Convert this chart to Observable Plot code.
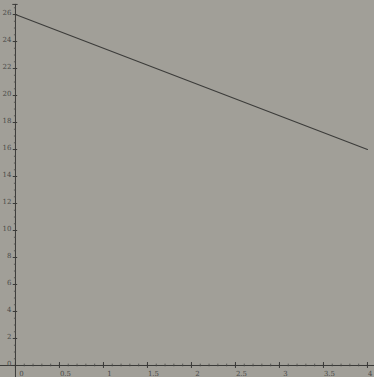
<!DOCTYPE html>
<html>
<head>
<meta charset="utf-8">
<script src="https://cdn.jsdelivr.net/npm/d3@7"></script>
<script src="https://cdn.jsdelivr.net/npm/@observablehq/plot@0.6"></script>
<style>
  html, body { margin: 0; padding: 0; background: #a19f98; }
  #chart svg { display: block; }
</style>
</head>
<body>
<div id="chart"></div>
<script>
const xTicks = [0, 0.5, 1, 1.5, 2, 2.5, 3, 3.5, 4];
const xTickLabels = ["0", "0.5", "1", "1.5", "2", "2.5", "3", "3.5", "4"];
const yTicks = [0, 2, 4, 6, 8, 10, 12, 14, 16, 18, 20, 22, 24, 26];
const yTickLabels = ["0", "2", "4", "6", "8", "10", "12", "14", "16", "18", "20", "22", "24", "26"];
const xMinor = d3.range(0, 4.05, 0.1);
const yMinor = d3.range(0, 27, 0.5);
const lineX = [0, 4];
const lineY = [26, 16];

const lineData = lineX.map((x, i) => ({x, y: lineY[i]}));
const xLab = xTicks.map((v, i) => ({v, t: xTickLabels[i]}));
const yLab = yTicks.map((v, i) => ({v, t: yTickLabels[i]}));

const chart = Plot.plot({
  width: 374,
  height: 377,
  margin: 0,
  style: {background: "#a19f98", fontFamily: "DejaVu Serif", overflow: "visible"},
  x: {domain: [-0.17, 4.08], axis: null},
  y: {domain: [-0.89, 27.04], axis: null},
  marks: [
    Plot.ruleY([0], {stroke: "#3a3a38", strokeWidth: 1}),
    Plot.ruleX([0], {y1: -0.89, y2: 26.75, stroke: "#3a3a38", strokeWidth: 1}),
    Plot.ruleY([26.75], {x1: -0.03, x2: 0.03, stroke: "#3a3a38"}),
    Plot.ruleX(xMinor, {y1: -0.1, y2: 0.1, stroke: "#4a4a48", strokeWidth: 0.8}),
    Plot.ruleY(yMinor, {x1: -0.012, x2: 0.012, stroke: "#4a4a48", strokeWidth: 0.8}),
    Plot.ruleX(xTicks, {y1: -0.22, y2: 0.22, stroke: "#3a3a38"}),
    Plot.ruleY(yTicks, {x1: -0.025, x2: 0.025, stroke: "#3a3a38"}),
    Plot.text(xLab.slice(0, -1), {x: "v", y: 0, text: "t", dx: 6, dy: 8, fontSize: 7, fill: "#4a4a48"}),
    Plot.text(xLab.slice(-1), {x: "v", y: 0, text: "t", dx: 5, dy: 8, textAnchor: "end", fontSize: 7, fill: "#4a4a48"}),
    Plot.text(yLab, {x: 0, y: "v", text: "t", dx: -4, dy: -2, textAnchor: "end", fontSize: 7, fill: "#4a4a48"}),
    Plot.line(lineData, {x: "x", y: "y", stroke: "#3c3c3a", strokeWidth: 1.1})
  ]
});
document.getElementById("chart").appendChild(chart);
</script>
</body>
</html>
